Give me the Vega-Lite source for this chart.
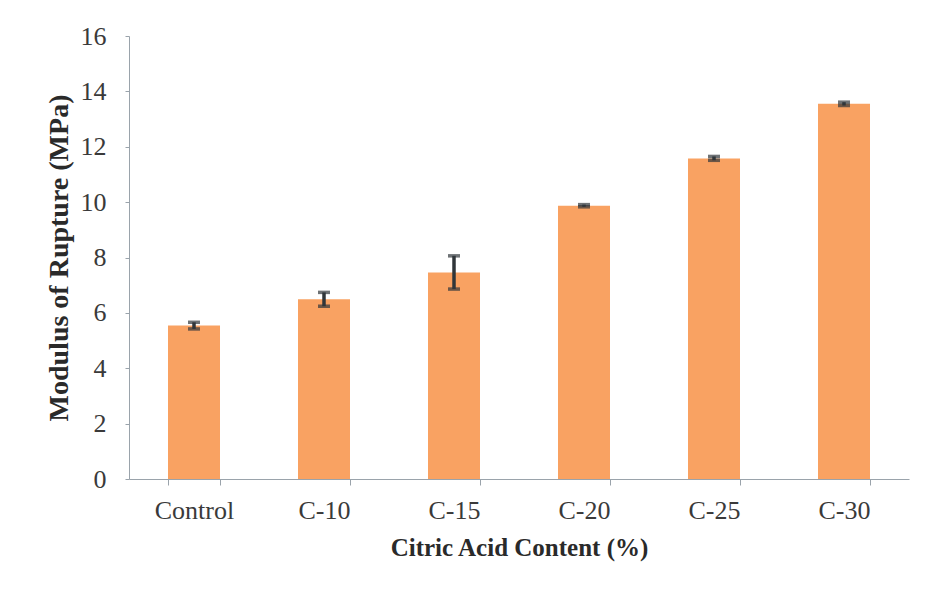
{
  "$schema": "https://vega.github.io/schema/vega-lite/v6.json",
  "autosize": "none",
  "width": 780,
  "height": 443,
  "padding": {"left": 129, "top": 36, "right": 17, "bottom": 113},
  "background": "#ffffff",
  "config": {
    "view": {"stroke": null},
    "font": "Liberation Serif",
    "axis": {
      "labelFont": "Liberation Serif",
      "titleFont": "Liberation Serif",
      "labelFontSize": 26,
      "titleFontSize": 25,
      "labelColor": "#3a3a3a",
      "titleColor": "#2a2a2a",
      "titleFontWeight": "bold",
      "domainColor": "#9aa3ab",
      "tickColor": "#9aa3ab",
      "grid": false
    }
  },
  "data": {
    "values": [
      {"sample": "Control", "mor": 5.54, "err": 0.12},
      {"sample": "C-10", "mor": 6.49, "err": 0.25},
      {"sample": "C-15", "mor": 7.46, "err": 0.6},
      {"sample": "C-20", "mor": 9.87, "err": 0.04},
      {"sample": "C-25", "mor": 11.58, "err": 0.07},
      {"sample": "C-30", "mor": 13.55, "err": 0.06}
    ]
  },
  "encoding": {
    "x": {
      "field": "sample",
      "type": "nominal",
      "sort": null,
      "scale": {"paddingInner": 0.6, "paddingOuter": 0.3},
      "axis": {
        "title": "Citric Acid Content (%)",
        "labelAngle": 0,
        "tickBand": "extent",
        "tickSize": 6,
        "labelPadding": 12,
        "titlePadding": 12
      }
    }
  },
  "layer": [
    {
      "mark": {"type": "bar", "color": "#F9A262"},
      "encoding": {
        "y": {
          "field": "mor",
          "type": "quantitative",
          "title": "Modulus of Rupture (MPa)",
          "scale": {"domain": [0, 16]},
          "axis": {
            "values": [0, 2, 4, 6, 8, 10, 12, 14, 16],
            "tickSize": 4,
            "labelPadding": 19,
            "titlePadding": 7,
            "titleFontSize": 28
          }
        }
      }
    },
    {
      "mark": {"type": "errorbar", "ticks": true, "size": 12, "thickness": 3.5, "color": "#30363a"},
      "encoding": {
        "y": {"field": "mor", "type": "quantitative", "title": "Modulus of Rupture (MPa)"},
        "yError": {"field": "err"}
      }
    }
  ]
}
